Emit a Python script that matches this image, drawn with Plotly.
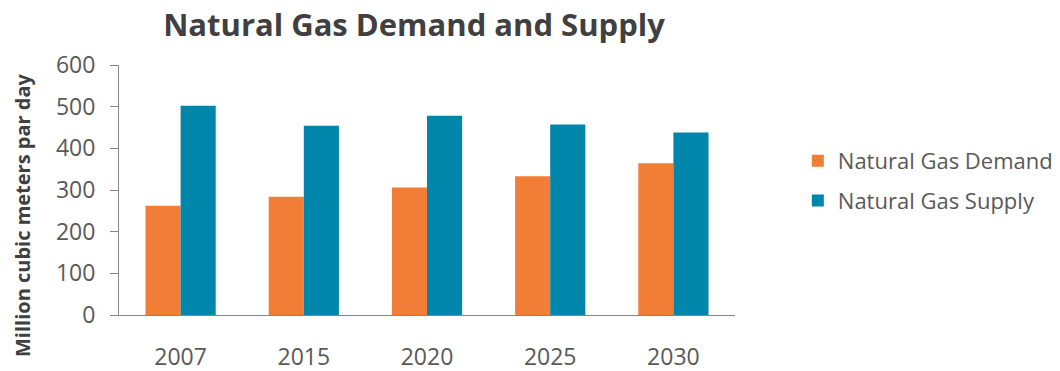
import plotly.graph_objects as go

# Forecast years and daily volumes (million cubic meters per day)
years = ["2007", "2015", "2020", "2025", "2030"]
demand = [262, 284, 306, 333, 364]
supply = [502, 454, 478, 457, 438]

y_ticks = [0, 100, 200, 300, 400, 500, 600]

ORANGE = "#F27D36"
TEAL = "#0085AB"
AXIS_GREY = "#868686"
TEXT_GREY = "#595959"
FONT = "Open Sans, Lato, sans-serif"

fig = go.Figure()
fig.add_trace(go.Bar(
    name="Natural Gas Demand", x=years, y=demand,
    marker=dict(color=ORANGE, line=dict(width=0)),
    legendgroup="demand",
))
fig.add_trace(go.Bar(
    name="Natural Gas Supply", x=years, y=supply,
    marker=dict(color=TEAL, line=dict(width=0)),
    legendgroup="supply",
))

fig.update_layout(
    width=1060, height=371,
    margin=dict(l=119, r=325, t=65, b=56, autoexpand=False),
    paper_bgcolor="white", plot_bgcolor="white",
    barmode="group", bargap=0.43, bargroupgap=0,
    font=dict(family=FONT, color=TEXT_GREY),
    title=dict(
        text="<b>Natural Gas Demand and Supply</b>",
        x=414 / 1060, xref="container", xanchor="center",
        y=1 - 25 / 371, yref="container", yanchor="middle",
        font=dict(family=FONT, size=31, color="#404040"),
    ),
    legend=dict(
        x=1.102, xanchor="left", y=0.536, yanchor="middle",
        font=dict(family=FONT, size=22, color=TEXT_GREY),
        traceorder="grouped", tracegroupgap=8,
        bgcolor="rgba(0,0,0,0)",
    ),
    showlegend=True,
    # vertical axis caption, placed to the left of the tick labels
    annotations=[dict(
        text="<b>Million cubic meters par day</b>",
        textangle=-90,
        xref="paper", x=(22 - 119) / 616, xanchor="center",
        yref="paper", y=(315 - 215) / 250, yanchor="middle",
        showarrow=False,
        font=dict(family=FONT, size=20, color="#404040"),
    )],
)

fig.update_xaxes(
    showline=True, linecolor=AXIS_GREY, linewidth=1,
    ticks="", showgrid=False, zeroline=False,
    tickfont=dict(family=FONT, size=23, color=TEXT_GREY),
    ticklabelstandoff=21, automargin=False,
)
fig.update_yaxes(
    range=[0, 600], tickvals=y_ticks,
    showline=True, linecolor=AXIS_GREY, linewidth=1,
    ticks="outside", ticklen=8, tickcolor=AXIS_GREY,
    showgrid=False, zeroline=False,
    tickfont=dict(family=FONT, size=23, color=TEXT_GREY),
    ticklabelstandoff=10, automargin=False,
)

fig.write_html("out.html")
